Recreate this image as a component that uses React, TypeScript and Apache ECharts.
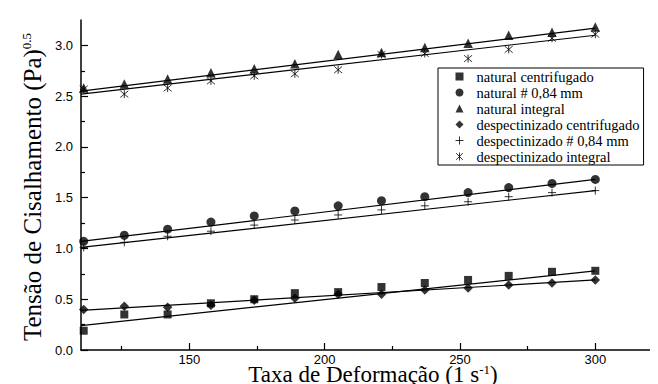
import React, { useEffect, useRef } from 'react';
import * as echarts from 'echarts';

const X = [111, 126, 142, 158, 174, 189, 205, 221, 237, 253, 268, 284, 300];

const NAMES = [
  'natural centrifugado',
  'natural # 0,84 mm',
  'natural integral',
  'despectinizado centrifugado',
  'despectinizado # 0,84 mm',
  'despectinizado integral',
];

const natCent = [0.19, 0.35, 0.35, 0.46, 0.5, 0.56, 0.57, 0.62, 0.66, 0.69, 0.73, 0.77, 0.78];
const nat084 = [1.07, 1.13, 1.19, 1.26, 1.32, 1.37, 1.42, 1.47, 1.51, 1.55, 1.6, 1.64, 1.68];
const natInt = [2.58, 2.62, 2.67, 2.73, 2.77, 2.82, 2.91, 2.93, 2.98, 3.02, 3.1, 3.13, 3.18];
const despCent = [0.4, 0.43, 0.42, 0.44, 0.49, 0.51, 0.55, 0.55, 0.59, 0.61, 0.64, 0.66, 0.69];
const desp084 = [1.01, 1.06, 1.12, 1.17, 1.23, 1.28, 1.33, 1.38, 1.42, 1.46, 1.51, 1.55, 1.57];
const despInt = [2.57, 2.52, 2.58, 2.65, 2.7, 2.72, 2.76, 2.91, 2.92, 2.87, 2.96, 3.07, 3.11];

// fitted straight lines (value at x = 110 and at x = 300)
const FIT_X = [110, 300];
const natCentFit = [0.24, 0.78];
const nat084Fit = [1.07, 1.68];
const natIntFit = [2.55, 3.17];
const despCentFit = [0.39, 0.69];
const desp084Fit = [1.01, 1.57];
const despIntFit = [2.52, 3.1];

const X_LABELS = [150, 200, 250, 300];
const X_MINOR = [125, 175, 225, 275, 325];
const Y_LABELS = [0, 0.5, 1, 1.5, 2, 2.5, 3];
const Y_MINOR = [0.25, 0.75, 1.25, 1.75, 2.25, 2.75];

const PLUS = 'path://M0,5L10,5M5,0L5,10';
const STAR = 'path://M0,0L10,10M10,0L0,10M5,-1L5,11';

export default function App() {
  const ref = useRef<HTMLDivElement>(null);
  useEffect(() => {
    if (!ref.current) return;
    const chart = echarts.init(ref.current, undefined, { renderer: 'svg' });
    const sets = [natCent, nat084, natInt, despCent, desp084, despInt];
    const fits = [natCentFit, nat084Fit, natIntFit, despCentFit, desp084Fit, despIntFit];
    const symbols = ['rect', 'circle', 'triangle', 'diamond', PLUS, STAR];
    const sizes = [8, 9, 9.5, 9.5, 8, 8];
    const stroked = [false, false, false, false, true, true];
    const styleOf = (i: number) =>
      stroked[i]
        ? { color: '#000', borderColor: '#000', borderWidth: 1 }
        : { color: '#000', borderWidth: 0 };

    const scatter = sets.map((ys, i) => ({
      name: NAMES[i],
      type: 'scatter',
      symbol: symbols[i],
      symbolSize: sizes[i],
      itemStyle: styleOf(i),
      data: ys.map((y, k) => [X[k], y]),
      z: 3,
    }));
    const lines = fits.map((f) => ({
      type: 'line',
      symbol: 'none',
      silent: true,
      lineStyle: { color: '#000', width: 1.2 },
      data: f.map((v, k) => [FIT_X[k], v]),
      z: 2,
    }));

    const axisStyle = { color: '#000', width: 1.5 };
    const tickStyle = { color: '#000', width: 1.2 };
    const labelFont = { color: '#000', fontFamily: 'Liberation Sans', fontSize: 13 };

    chart.setOption({
      animation: false,
      backgroundColor: '#fff',
      grid: { left: 73, right: 3, top: 12, bottom: 42 },
      graphic: [
        {
          type: 'text',
          x: 365,
          y: 366,
          style: {
            text: 'Taxa de Deformação (1 s{sup|-1})',
            fontFamily: 'Liberation Serif',
            fontSize: 23,
            fill: '#000',
            align: 'center',
            verticalAlign: 'middle',
            rich: {
              sup: { fontFamily: 'Liberation Serif', fontSize: 13, fill: '#000', verticalAlign: 'top' },
            },
          },
        },
        {
          type: 'text',
          x: 24,
          y: 179,
          rotation: Math.PI / 2,
          style: {
            text: 'Tensão de Cisalhamento (Pa){sup|0.5}',
            fontFamily: 'Liberation Serif',
            fontSize: 25,
            fill: '#000',
            align: 'center',
            verticalAlign: 'middle',
            rich: {
              sup: { fontFamily: 'Liberation Serif', fontSize: 13, fill: '#000', verticalAlign: 'top' },
            },
          },
        },
      ],
      legend: {
        orient: 'vertical',
        left: 430,
        top: 60,
        selectedMode: false,
        data: NAMES.map((n, i) => ({ name: n, icon: symbols[i], itemStyle: styleOf(i) })),
        itemWidth: 8,
        itemHeight: 8,
        itemGap: 1,
        padding: [1, 4, 1, 17],
        borderColor: '#000',
        borderWidth: 1,
        borderRadius: 0,
        backgroundColor: '#fff',
        textStyle: {
          fontFamily: 'Liberation Serif',
          fontSize: 14.5,
          color: '#000',
          padding: [0, 0, 0, 8],
        },
      },
      xAxis: [
        {
          type: 'value',
          min: 110,
          max: 325,
          axisLine: { show: true, onZero: false, lineStyle: axisStyle },
          axisTick: { show: true, inside: true, length: 7, customValues: X_LABELS, lineStyle: tickStyle },
          axisLabel: { ...labelFont, customValues: X_LABELS, margin: 3 },
          splitLine: { show: false },
        },
        {
          type: 'value',
          min: 110,
          max: 325,
          position: 'bottom',
          axisLine: { show: false },
          axisTick: { show: true, inside: true, length: 4, customValues: X_MINOR, lineStyle: tickStyle },
          axisLabel: { show: false },
          splitLine: { show: false },
        },
      ],
      yAxis: [
        {
          type: 'value',
          min: 0,
          max: 3.25,
          axisLine: { show: true, onZero: false, lineStyle: axisStyle },
          axisTick: { show: true, inside: true, length: 7, customValues: Y_LABELS, lineStyle: tickStyle },
          axisLabel: {
            ...labelFont,
            customValues: Y_LABELS,
            margin: 8,
            formatter: (v: number) => v.toFixed(1),
          },
          splitLine: { show: false },
        },
        {
          type: 'value',
          min: 0,
          max: 3.25,
          position: 'left',
          axisLine: { show: false },
          axisTick: { show: true, inside: true, length: 4, customValues: Y_MINOR, lineStyle: tickStyle },
          axisLabel: { show: false },
          splitLine: { show: false },
        },
      ],
      series: [...lines, ...scatter],
    });
    return () => chart.dispose();
  }, []);
  return <div ref={ref} style={{ width: 658, height: 384 }} />;
}
